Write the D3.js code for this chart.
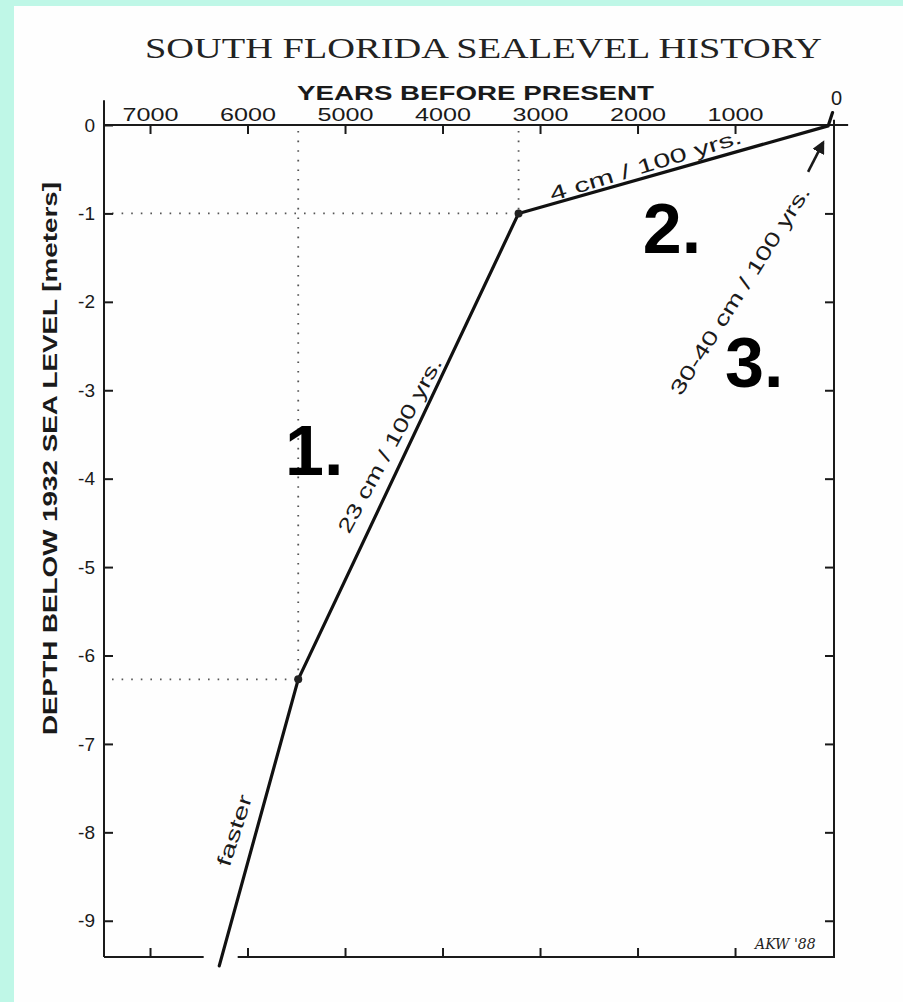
<!DOCTYPE html>
<html>
<head>
<meta charset="utf-8">
<script src="https://cdn.jsdelivr.net/npm/d3@7"></script>
<style>
  html, body { margin: 0; padding: 0; background: #bff7e7; }
  svg { display: block; }
</style>
</head>
<body>
<svg id="chart" width="903" height="1002"></svg>
<script>
// Sea level history, years before present vs depth below 1932 sea level (m)
const years  = [6290, 5480, 3220, 45, 0];
const depths = [-9.51, -6.27, -1.0, -0.01, 0.14];
const breakPoints = [1, 2];            // indices of the marked turning points

const xTicks = [7000, 6000, 5000, 4000, 3000, 2000, 1000];
const xTickLabels = ["7000", "6000", "5000", "4000", "3000", "2000", "1000"];
const yTicks = [0, -1, -2, -3, -4, -5, -6, -7, -8, -9];
const yTickLabels = ["0", "-1", "-2", "-3", "-4", "-5", "-6", "-7", "-8", "-9"];

const rateLabels = ["faster", "23 cm / 100 yrs.", "4  cm / 100 yrs.", "30-40 cm / 100 yrs."];
const rateYears  = [6077, 4497, 1903, 949];
const rateDepths = [-8.0, -3.65, -0.51, -1.87];
const rateAngles = [-72, -61.5, -17, -57.6];
const rateLengths = [74, 196, 200, 243];
const rateShift  = ["0.05em", "0.1em", "0.1em", "0.35em"];

const phaseLabels = ["1.", "2.", "3."];
const phaseYears  = [5615, 1946, 1103];
const phaseDepths = [-3.96, -1.45, -2.96];

const svg = d3.select("#chart");

// white paper area
svg.append("rect").attr("x", 14).attr("y", 6).attr("width", 889).attr("height", 996).attr("fill", "#fefefe");

const x = d3.scaleLinear().domain([7472, -15]).range([104, 834]);
const y = d3.scaleLinear().domain([0, -9.41]).range([125, 957]);

const ink = "#1a1a1a";
const sans = "'Liberation Sans', Arial, Helvetica, sans-serif";

// Title
svg.append("text")
  .attr("x", 145).attr("y", 58)
  .attr("textLength", 677).attr("lengthAdjust", "spacingAndGlyphs")
  .style("font-family", "'Liberation Serif', 'DejaVu Serif', serif")
  .style("font-size", "30px").attr("fill", "#222")
  .text("SOUTH FLORIDA SEALEVEL HISTORY");

svg.append("text")
  .attr("x", 297).attr("y", 100)
  .attr("textLength", 357).attr("lengthAdjust", "spacingAndGlyphs")
  .style("font-family", sans).style("font-weight", "bold")
  .style("font-size", "21px").attr("fill", ink)
  .text("YEARS BEFORE PRESENT");

// Y axis title
svg.append("text")
  .attr("transform", `translate(57,${(182 + 735) / 2}) rotate(-90)`)
  .attr("text-anchor", "middle")
  .attr("textLength", 553).attr("lengthAdjust", "spacingAndGlyphs")
  .style("font-family", sans).style("font-weight", "bold")
  .style("font-size", "21px").attr("fill", ink)
  .text("DEPTH BELOW 1932 SEA LEVEL [meters]");

// Guide lines from the turning points to the axes
const guides = svg.append("g")
  .attr("stroke", "#555").attr("stroke-width", 1.8)
  .attr("stroke-dasharray", "1.6,8").attr("fill", "none");
breakPoints.forEach(i => {
  guides.append("line")
    .attr("x1", x(years[i])).attr("x2", x(years[i]))
    .attr("y1", y(0) + 6).attr("y2", y(depths[i]));
  guides.append("line")
    .attr("x1", x(7472) + 8).attr("x2", x(years[i]))
    .attr("y1", y(depths[i])).attr("y2", y(depths[i]));
});

// Axis frame lines
const frame = svg.append("g").attr("stroke", ink).attr("stroke-width", 2).attr("fill", "none");
const xLeft = x(7472), xRight = x(-15);
frame.append("line").attr("x1", xLeft).attr("x2", x(-160)).attr("y1", y(0)).attr("y2", y(0));
frame.append("line").attr("x1", xLeft).attr("x2", xLeft).attr("y1", y(0.28)).attr("y2", y(-9.41));
frame.append("line").attr("x1", xRight).attr("x2", xRight).attr("y1", y(0.06)).attr("y2", y(-9.41));
// bottom edge, broken where the curve passes through it
const t = (-9.41 - depths[0]) / (depths[1] - depths[0]);
const crossX = x(years[0] + t * (years[1] - years[0]));
frame.append("line").attr("x1", xLeft).attr("x2", crossX - 18).attr("y1", y(-9.41)).attr("y2", y(-9.41));
frame.append("line").attr("x1", crossX + 16).attr("x2", xRight + 1).attr("y1", y(-9.41)).attr("y2", y(-9.41));

function styleAxis(g) {
  g.select(".domain").remove();
  g.selectAll(".tick line").attr("stroke", ink).attr("stroke-width", 2);
  g.selectAll("text").attr("fill", ink).style("font-family", sans);
}

// Top axis with labels
svg.append("g").attr("transform", `translate(0,${y(0)})`)
  .call(d3.axisTop(x).tickValues(xTicks).tickSizeInner(-9).tickSizeOuter(0).tickPadding(4)
        .tickFormat((d, i) => xTickLabels[i]))
  .call(styleAxis)
  .call(g => g.selectAll("text").style("font-size", "19px")
        .attr("textLength", 56).attr("lengthAdjust", "spacingAndGlyphs"));

// "0" over the right end of the time axis
svg.append("text")
  .attr("x", x(0) + 4).attr("y", 105).attr("text-anchor", "middle")
  .style("font-family", sans).style("font-size", "20px").attr("fill", ink)
  .text("0");

// Bottom axis ticks
svg.append("g").attr("transform", `translate(0,${y(-9.41)})`)
  .call(d3.axisBottom(x).tickValues(xTicks).tickSizeInner(-9).tickSizeOuter(0).tickFormat(""))
  .call(styleAxis);

// Left axis with labels
svg.append("g").attr("transform", `translate(${xLeft},0)`)
  .call(d3.axisLeft(y).tickValues(yTicks).tickSizeInner(-9).tickSizeOuter(0).tickPadding(9)
        .tickFormat((d, i) => yTickLabels[i]))
  .call(styleAxis)
  .call(g => g.selectAll("text").style("font-size", "19px"));

// Right axis ticks
svg.append("g").attr("transform", `translate(${xRight},0)`)
  .call(d3.axisRight(y).tickValues(yTicks.slice(1)).tickSizeInner(-9).tickSizeOuter(0).tickFormat(""))
  .call(styleAxis);

// Sea level curve
const line = d3.line().x((d, i) => x(years[i])).y((d, i) => y(depths[i]));
svg.append("path")
  .datum(depths)
  .attr("d", line)
  .attr("fill", "none").attr("stroke", "#111").attr("stroke-width", 3.2)
  .attr("stroke-linejoin", "round").attr("stroke-linecap", "round");

svg.append("g").selectAll("circle")
  .data(breakPoints).join("circle")
  .attr("cx", i => x(years[i])).attr("cy", i => y(depths[i]))
  .attr("r", 4).attr("fill", "#222");

// Rate annotations along the curve
svg.append("g").selectAll("text")
  .data(rateLabels).join("text")
  .attr("transform", (d, i) => `translate(${x(rateYears[i])},${y(rateDepths[i])}) rotate(${rateAngles[i]})`)
  .attr("text-anchor", "middle").attr("dy", (d, i) => rateShift[i])
  .attr("textLength", (d, i) => rateLengths[i]).attr("lengthAdjust", "spacingAndGlyphs")
  .style("font-family", sans).style("font-size", "20px").attr("fill", ink)
  .text(d => d);

// Arrow to the recent rise
svg.append("defs").append("marker")
  .attr("id", "head").attr("viewBox", "0 0 10 10")
  .attr("refX", 8).attr("refY", 5).attr("markerWidth", 5).attr("markerHeight", 5)
  .attr("orient", "auto")
  .append("path").attr("d", "M0,0 L10,5 L0,10 z").attr("fill", ink);
svg.append("line")
  .attr("x1", x(251)).attr("y1", y(-0.53))
  .attr("x2", x(97)).attr("y2", y(-0.20))
  .attr("stroke", ink).attr("stroke-width", 2.6)
  .attr("marker-end", "url(#head)");

// Phase numbers
svg.append("g").selectAll("text")
  .data(phaseLabels).join("text")
  .attr("x", (d, i) => x(phaseYears[i])).attr("y", (d, i) => y(phaseDepths[i]))
  .style("font-family", sans).style("font-weight", "bold")
  .style("font-size", "70px").attr("fill", "#000")
  .text(d => d);

// Author's initials
svg.append("text")
  .attr("x", x(795)).attr("y", y(-9.25) + 6)
  .style("font-family", "'DejaVu Serif', serif").style("font-style", "italic")
  .style("font-size", "14px").attr("fill", "#222")
  .text("AKW '88");
</script>
</body>
</html>
